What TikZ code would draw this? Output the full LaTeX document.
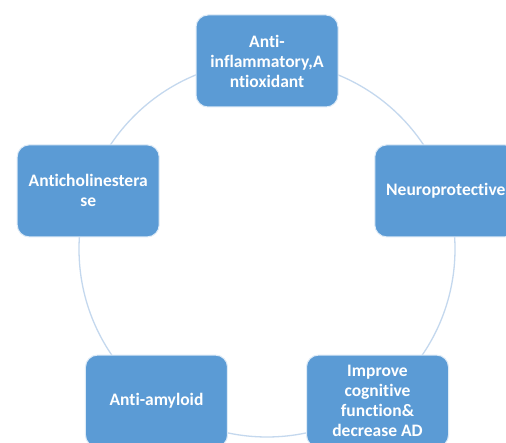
\documentclass[tikz,border=0pt]{standalone}
\usepackage{fontspec}
\setmainfont{Carlito}[Ligatures={NoCommon,NoRare}]
\usetikzlibrary{positioning}
\definecolor{boxblue}{RGB}{91,155,213}
\definecolor{ringblue}{RGB}{196,216,238}
\tikzset{x=1pt, y=1pt,
every box/.style={ % the five rounded boxes
rectangle, rounded corners=12pt,
minimum width=142pt, minimum height=92pt,
fill=boxblue, draw=white!80!boxblue, line width=1pt,
text=white, font=\fontsize{17.5}{20}\selectfont\bfseries,
align=center, inner sep=1pt},
ring/.style={ % circle behind the boxes
draw=ringblue, line width=1.3pt}}

\begin{document}
\begin{tikzpicture}
					\useasboundingbox (0,0) rectangle (506,443);
					\clip (0,0) rectangle (506,443);
					\fill[white] (0,0) rectangle (506,443);

					\coordinate (c) at (267,194);
					\draw[ring] (c) circle (188);

					\node[every box] (antiox) at ([shift={(90:188)}]c) {Anti-\\inflammatory,A\\ntioxidant};
					\node[every box] (neuro) at ([shift={(18:188)}]c) {Neuroprotective};
					\node[every box] (cognit) at ([shift={(-54:188)}]c) {Improve\\cognitive\\function\&\\decrease AD};
					\node[every box] (amyloid) at ([shift={(-126:188)}]c) {Anti-amyloid};
					\node[every box] (cholin) at ([shift={(162:188)}]c) {Anticholinestera\\se};
				\end{tikzpicture}
\end{document}
